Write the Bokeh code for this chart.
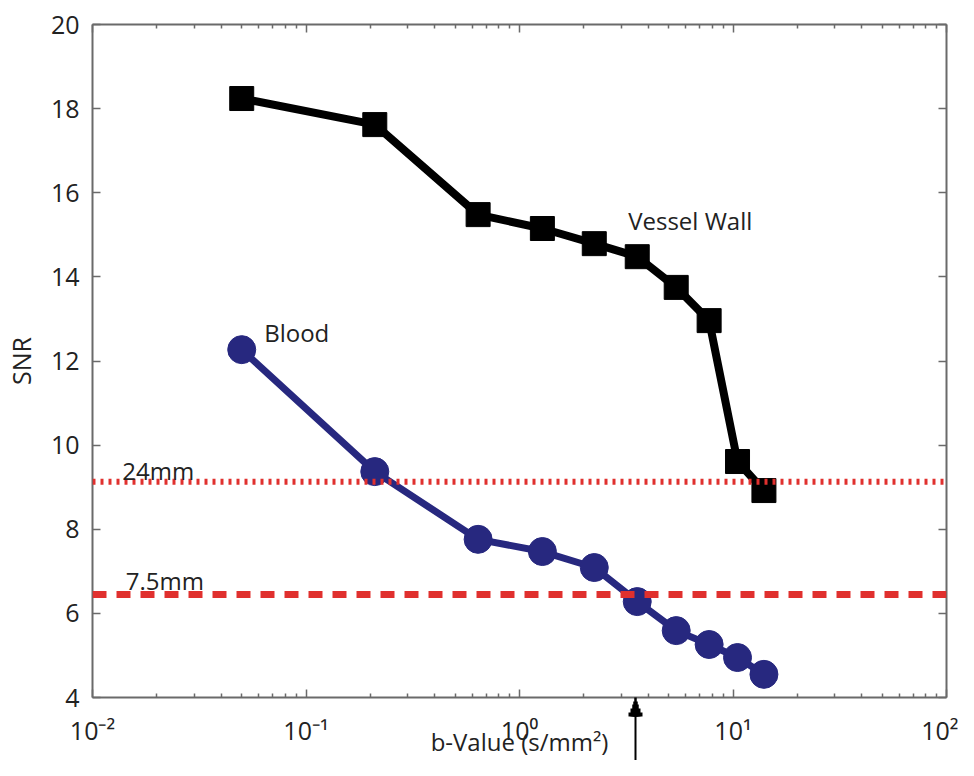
from bokeh.plotting import figure
from bokeh.models import (Range1d, FixedTicker, LinearAxis, LogAxis, Label, Span)
from bokeh.embed import file_html
from bokeh.resources import INLINE

# ---------------- data ----------------
b_values = [0.05, 0.21, 0.64, 1.28, 2.24, 3.56, 5.42, 7.73, 10.5, 13.96]
snr_vessel_wall = [18.24, 17.62, 15.48, 15.15, 14.79, 14.48, 13.75, 12.96, 9.61, 8.92]
snr_blood = [12.27, 9.37, 7.76, 7.47, 7.09, 6.28, 5.59, 5.26, 4.95, 4.55]
level_24mm = 9.13
level_7_5mm = 6.45
arrow_b = 3.5
x_ticks = [0.01, 0.1, 1, 10, 100]
x_tick_labels = ["10\u207b\u00b2", "10\u207b\u00b9", "10\u2070", "10\u00b9", "10\u00b2"]
y_ticks = [4, 6, 8, 10, 12, 14, 16, 18, 20]
x_minor = [m * 10.0 ** e for e in range(-2, 2) for m in range(2, 10)]

FONT = "Open Sans"
AXC = "#6a6a6a"
TXT = "#222222"

p = figure(width=958, height=760, x_axis_type="log", x_axis_location=None,
           x_range=Range1d(0.01, 100), y_range=Range1d(4, 20),
           output_backend="svg", toolbar_location=None,
           min_border_left=90, min_border_right=12,
           min_border_top=24, min_border_bottom=63)
p.grid.visible = False
p.outline_line_color = None
p.background_fill_color = "white"
p.border_fill_color = "white"

xt = FixedTicker(ticks=x_ticks, minor_ticks=x_minor)
yt = FixedTicker(ticks=y_ticks, minor_ticks=[])

def style(ax, labels=True):
    ax.axis_line_color = AXC
    ax.axis_line_width = 2
    ax.major_tick_line_color = AXC
    ax.minor_tick_line_color = AXC
    ax.major_tick_line_width = 1.5
    ax.minor_tick_line_width = 1.5
    ax.major_tick_in = 8
    ax.major_tick_out = 0
    ax.minor_tick_in = 4
    ax.minor_tick_out = 0
    if labels:
        ax.major_label_text_font = FONT
        ax.major_label_text_font_size = "25px"
        ax.major_label_text_color = TXT
    else:
        ax.major_label_text_font_size = "0px"
        ax.major_label_text_alpha = 0
        ax.major_label_standoff = 0

def arrow_axis(ticker):
    a = LogAxis(ticker=ticker)
    style(a, labels=False)
    a.axis_line_color = None
    a.major_tick_line_color = "black"
    a.minor_tick_line_color = "black"
    a.major_tick_in = 0
    a.minor_tick_in = 0
    return a

# 1) bottom edge of the box: line and ticks only
frame_axis = LogAxis(ticker=xt)
style(frame_axis, labels=False)
p.add_layout(frame_axis, "below")

# 2) arrow tip (its outward tick also makes room for the head)
tip = arrow_axis(FixedTicker(ticks=[arrow_b], minor_ticks=[]))
tip.major_tick_line_width = 2.5
tip.major_tick_out = 19
p.add_layout(tip, "below")

# 3) arrow head, stacked ticks growing up from the head's base
for (w1, l1), (w2, l2) in [((14, 4), (10, 8)), ((6.5, 12), (4.5, 15))]:
    h = arrow_axis(FixedTicker(ticks=[arrow_b], minor_ticks=[arrow_b]))
    h.major_tick_line_width = w1
    h.major_tick_in = l1
    h.minor_tick_line_width = w2
    h.minor_tick_in = l2
    p.add_layout(h, "below")

# 4) tick labels and axis title
label_axis = LogAxis(ticker=FixedTicker(ticks=x_ticks, minor_ticks=[]))
style(label_axis)
label_axis.axis_line_color = None
label_axis.major_tick_line_color = None
label_axis.minor_tick_line_color = None
label_axis.major_tick_in = 0
label_axis.minor_tick_in = 0
label_axis.major_label_overrides = dict(zip(x_ticks, x_tick_labels))
label_axis.major_label_standoff = -4
label_axis.axis_label = "b-Value (s/mm\u00b2)"
label_axis.axis_label_text_font = FONT
label_axis.axis_label_text_font_size = "24px"
label_axis.axis_label_text_font_style = "normal"
label_axis.axis_label_text_color = TXT
label_axis.axis_label_standoff = -25
p.add_layout(label_axis, "below")

# 5) arrow shaft, reaching up from the bottom of the canvas to the head
shaft = arrow_axis(FixedTicker(ticks=[], minor_ticks=[arrow_b]))
shaft.minor_tick_line_width = 2
shaft.minor_tick_in = 50
p.add_layout(shaft, "below")

ya = p.yaxis[0]
ya.ticker = yt
style(ya)
ya.major_label_standoff = 13
ya.axis_label = "SNR"
ya.axis_label_text_font = FONT
ya.axis_label_text_font_size = "25px"
ya.axis_label_text_font_style = "normal"
ya.axis_label_text_color = TXT
ya.axis_label_standoff = 10

top = LogAxis(ticker=xt)
style(top, labels=False)
p.add_layout(top, "above")
right = LinearAxis(ticker=yt)
style(right, labels=False)
p.add_layout(right, "right")

# reference lines
p.add_layout(Span(location=level_24mm, dimension="width", line_color="#e0302e",
                  line_width=6, line_dash="3 5"))
p.add_layout(Span(location=level_7_5mm, dimension="width", line_color="#e0302e",
                  line_width=7, line_dash="14 10"))

# series
BLUE = "#27287f"
p.line(b_values, snr_vessel_wall, line_color="black", line_width=8)
p.scatter(b_values, snr_vessel_wall, marker="square", size=24,
          fill_color="black", line_color="black")
p.line(b_values, snr_blood, line_color=BLUE, line_width=7)
p.scatter(b_values, snr_blood, marker="circle", size=28,
          fill_color=BLUE, line_color=BLUE)

# labels
for x, y, t in [(0.0138, 9.40, "24mm"), (0.0143, 6.78, "7.5mm"),
                (0.0637, 12.68, "Blood"), (3.23, 15.34, "Vessel Wall")]:
    p.add_layout(Label(x=x, y=y, text=t, text_font=FONT, text_font_size="24px",
                       text_color=TXT, text_baseline="alphabetic"))

open("out.html", "w").write(file_html(p, INLINE))
